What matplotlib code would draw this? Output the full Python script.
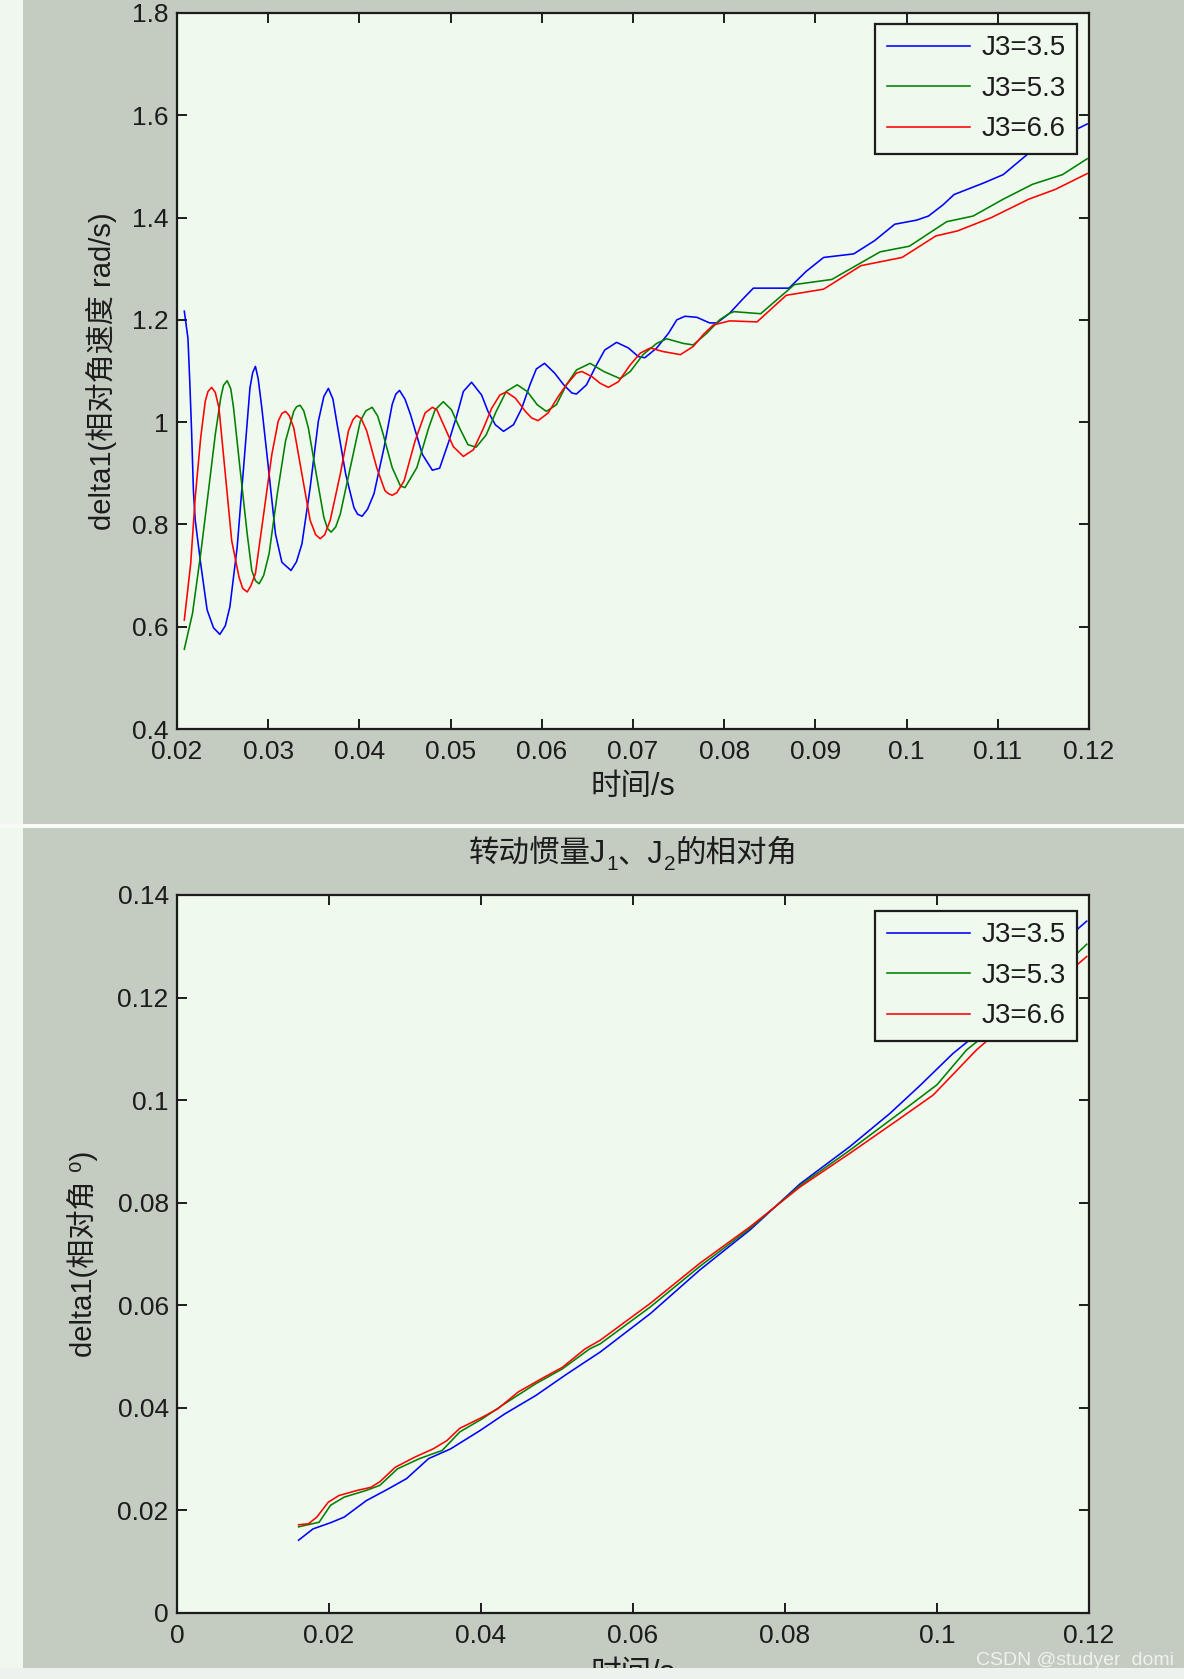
import matplotlib
matplotlib.use('Agg')
import matplotlib.pyplot as plt
from matplotlib.patches import Rectangle
from matplotlib.ticker import FixedLocator, FixedFormatter

plt.rcParams['font.family'] = ['Liberation Sans', 'Noto Sans CJK SC', 'DejaVu Sans']
plt.rcParams['axes.unicode_minus'] = False

# ---- top panel: relative angular speed ----
t35_top = [0.0208, 0.0212, 0.0214, 0.0216, 0.0218, 0.0220, 0.0226, 0.0233, 0.0240, 0.0247,
           0.0253, 0.0258, 0.0266, 0.0273, 0.0280, 0.0283, 0.0286, 0.0289, 0.0293, 0.0301,
           0.0308, 0.0315, 0.0325, 0.0331, 0.0337, 0.0346, 0.0355, 0.0361, 0.0366, 0.0371,
           0.0375, 0.0385, 0.0394, 0.0398, 0.0403, 0.0409, 0.0416, 0.0427, 0.0436, 0.0440,
           0.0444, 0.0450, 0.0456, 0.0469, 0.0480, 0.0488, 0.0498, 0.0507, 0.0514, 0.0523,
           0.0534, 0.0541, 0.0549, 0.0558, 0.0569, 0.0578, 0.0587, 0.0594, 0.0603, 0.0614,
           0.0624, 0.0633, 0.0638, 0.0649, 0.0660, 0.0669, 0.0682, 0.0695, 0.0706, 0.0713,
           0.0726, 0.0739, 0.0748, 0.0757, 0.0770, 0.0784, 0.0792, 0.0806, 0.0820, 0.0832,
           0.0871, 0.0890, 0.0909, 0.0942, 0.0965, 0.0987, 0.1011, 0.1024, 0.1040, 0.1052,
           0.1085, 0.1106, 0.1134, 0.1160, 0.1189, 0.1198]
v35_top = [1.217, 1.164, 1.080, 0.982, 0.866, 0.808, 0.723, 0.633, 0.598, 0.585,
           0.602, 0.639, 0.756, 0.911, 1.067, 1.097, 1.109, 1.085, 1.028, 0.898,
           0.781, 0.726, 0.710, 0.727, 0.762, 0.872, 1.002, 1.050, 1.066, 1.045,
           1.002, 0.898, 0.833, 0.820, 0.816, 0.830, 0.860, 0.950, 1.035, 1.055,
           1.062, 1.045, 1.015, 0.937, 0.906, 0.910, 0.962, 1.014, 1.060, 1.078,
           1.053, 1.021, 0.995, 0.982, 0.995, 1.027, 1.073, 1.104, 1.115, 1.096,
           1.073, 1.057, 1.055, 1.073, 1.112, 1.141, 1.156, 1.145, 1.128, 1.126,
           1.145, 1.174, 1.200, 1.207, 1.205, 1.194, 1.194, 1.213, 1.240, 1.262,
           1.262, 1.295, 1.322, 1.329, 1.355, 1.387, 1.395, 1.403, 1.425, 1.445,
           1.468, 1.484, 1.526, 1.555, 1.575, 1.583]

t53_top = [0.0208, 0.0217, 0.0226, 0.0235, 0.0242, 0.0248, 0.0251, 0.0255, 0.0259, 0.0262,
           0.0269, 0.0277, 0.0282, 0.0286, 0.0290, 0.0295, 0.0301, 0.0310, 0.0319, 0.0328,
           0.0331, 0.0335, 0.0339, 0.0344, 0.0354, 0.0361, 0.0365, 0.0369, 0.0374, 0.0379,
           0.0390, 0.0401, 0.0407, 0.0414, 0.0420, 0.0425, 0.0436, 0.0445, 0.0450, 0.0463,
           0.0476, 0.0483, 0.0492, 0.0501, 0.0510, 0.0519, 0.0528, 0.0539, 0.0550, 0.0561,
           0.0573, 0.0584, 0.0595, 0.0605, 0.0616, 0.0627, 0.0638, 0.0653, 0.0668, 0.0686,
           0.0697, 0.0711, 0.0726, 0.0737, 0.0755, 0.0766, 0.0781, 0.0795, 0.0806, 0.0811,
           0.0840, 0.0877, 0.0918, 0.0971, 0.1003, 0.1044, 0.1073, 0.1106, 0.1138, 0.1171,
           0.1198]
v53_top = [0.556, 0.626, 0.743, 0.873, 0.976, 1.048, 1.072, 1.081, 1.065, 1.028,
           0.911, 0.781, 0.710, 0.690, 0.684, 0.700, 0.743, 0.860, 0.963, 1.021,
           1.030, 1.033, 1.022, 0.989, 0.885, 0.814, 0.792, 0.785, 0.795, 0.820,
           0.911, 1.002, 1.022, 1.029, 1.012, 0.983, 0.911, 0.875, 0.872, 0.911,
           0.989, 1.024, 1.040, 1.024, 0.988, 0.956, 0.951, 0.975, 1.021, 1.060,
           1.073, 1.060, 1.034, 1.021, 1.034, 1.073, 1.102, 1.115, 1.099, 1.085,
           1.099, 1.132, 1.154, 1.163, 1.154, 1.151, 1.174, 1.200, 1.213, 1.216,
           1.212, 1.269, 1.279, 1.333, 1.344, 1.392, 1.403, 1.436, 1.465, 1.484,
           1.515]

t66_top = [0.0208, 0.0215, 0.0220, 0.0226, 0.0231, 0.0234, 0.0238, 0.0242, 0.0246, 0.0253,
           0.0260, 0.0268, 0.0272, 0.0277, 0.0281, 0.0286, 0.0295, 0.0304, 0.0311, 0.0315,
           0.0319, 0.0323, 0.0328, 0.0337, 0.0346, 0.0352, 0.0357, 0.0362, 0.0368, 0.0379,
           0.0388, 0.0393, 0.0397, 0.0402, 0.0408, 0.0419, 0.0428, 0.0432, 0.0436, 0.0441,
           0.0449, 0.0461, 0.0472, 0.0480, 0.0485, 0.0494, 0.0503, 0.0514, 0.0525, 0.0536,
           0.0545, 0.0554, 0.0561, 0.0571, 0.0582, 0.0589, 0.0596, 0.0607, 0.0618, 0.0627,
           0.0638, 0.0644, 0.0655, 0.0664, 0.0673, 0.0684, 0.0697, 0.0708, 0.0719, 0.0733,
           0.0752, 0.0766, 0.0777, 0.0788, 0.0806, 0.0836, 0.0868, 0.0909, 0.0950, 0.0995,
           0.1032, 0.1056, 0.1093, 0.1134, 0.1163, 0.1198]
v66_top = [0.613, 0.723, 0.853, 0.970, 1.041, 1.060, 1.068, 1.058, 1.028, 0.898,
           0.768, 0.697, 0.675, 0.668, 0.680, 0.704, 0.820, 0.937, 1.002, 1.017,
           1.021, 1.013, 0.989, 0.898, 0.808, 0.780, 0.772, 0.780, 0.808, 0.898,
           0.983, 1.005, 1.013, 1.007, 0.983, 0.911, 0.866, 0.860, 0.857, 0.862,
           0.885, 0.963, 1.018, 1.029, 1.024, 0.988, 0.952, 0.933, 0.946, 0.988,
           1.027, 1.053, 1.059, 1.047, 1.021, 1.008, 1.003, 1.018, 1.050, 1.073,
           1.096, 1.099, 1.089, 1.076, 1.068, 1.079, 1.112, 1.135, 1.145, 1.138,
           1.132, 1.148, 1.171, 1.190, 1.198, 1.196, 1.248, 1.260, 1.306, 1.322,
           1.364, 1.374, 1.400, 1.436, 1.455, 1.486]

# ---- bottom panel: relative angle ----
t35_bot = [0.0160, 0.0179, 0.0202, 0.0220, 0.0249, 0.0278, 0.0302, 0.0331, 0.0360, 0.0399,
           0.0431, 0.0472, 0.0513, 0.0557, 0.0623, 0.0688, 0.0754, 0.0820, 0.0885, 0.0938,
           0.0978, 0.1021, 0.1046, 0.1100, 0.1150, 0.1186, 0.1197]
a35_bot = [0.0142, 0.0164, 0.0176, 0.0187, 0.0219, 0.0242, 0.0262, 0.0301, 0.0320, 0.0356,
           0.0388, 0.0424, 0.0466, 0.0509, 0.0584, 0.0669, 0.0747, 0.0837, 0.0909, 0.0974,
           0.1029, 0.1091, 0.1121, 0.1190, 0.1265, 0.1335, 0.1349]

t53_bot = [0.0160, 0.0187, 0.0202, 0.0220, 0.0249, 0.0267, 0.0290, 0.0319, 0.0349, 0.0372,
           0.0402, 0.0431, 0.0472, 0.0507, 0.0543, 0.0557, 0.0623, 0.0688, 0.0754, 0.0820,
           0.0885, 0.0951, 0.1000, 0.1039, 0.1061, 0.1120, 0.1180, 0.1197]
a53_bot = [0.0168, 0.0177, 0.0210, 0.0226, 0.0239, 0.0249, 0.0281, 0.0301, 0.0317, 0.0353,
           0.0379, 0.0408, 0.0447, 0.0476, 0.0515, 0.0525, 0.0597, 0.0676, 0.0750, 0.0834,
           0.0902, 0.0975, 0.1030, 0.1098, 0.1124, 0.1200, 0.1280, 0.1304]

t66_bot = [0.0160, 0.0173, 0.0184, 0.0199, 0.0213, 0.0237, 0.0255, 0.0267, 0.0287, 0.0313,
           0.0337, 0.0355, 0.0372, 0.0402, 0.0422, 0.0449, 0.0481, 0.0507, 0.0537, 0.0557,
           0.0623, 0.0688, 0.0754, 0.0820, 0.0885, 0.0951, 0.0995, 0.1052, 0.1070, 0.1130,
           0.1197]
a66_bot = [0.0172, 0.0174, 0.0187, 0.0216, 0.0229, 0.0239, 0.0245, 0.0256, 0.0284, 0.0304,
           0.0320, 0.0336, 0.0360, 0.0382, 0.0398, 0.0431, 0.0458, 0.0479, 0.0515, 0.0532,
           0.0604, 0.0682, 0.0753, 0.0831, 0.0896, 0.0964, 0.1010, 0.1098, 0.1121, 0.1195,
           0.1280]

labels = ['J3=3.5', 'J3=5.3', 'J3=6.6']
colors = ['#0000ff', '#008000', '#ff0000']

top_xticks = [0.02, 0.03, 0.04, 0.05, 0.06, 0.07, 0.08, 0.09, 0.1, 0.11, 0.12]
top_xlabels = ['0.02', '0.03', '0.04', '0.05', '0.06', '0.07', '0.08', '0.09', '0.1', '0.11', '0.12']
top_yticks = [0.4, 0.6, 0.8, 1.0, 1.2, 1.4, 1.6, 1.8]
top_ylabels = ['0.4', '0.6', '0.8', '1', '1.2', '1.4', '1.6', '1.8']
bot_xticks = [0, 0.02, 0.04, 0.06, 0.08, 0.1, 0.12]
bot_xlabels = ['0', '0.02', '0.04', '0.06', '0.08', '0.1', '0.12']
bot_yticks = [0, 0.02, 0.04, 0.06, 0.08, 0.1, 0.12, 0.14]
bot_ylabels = ['0', '0.02', '0.04', '0.06', '0.08', '0.1', '0.12', '0.14']

# title pieces: (text, size, is_subscript)
title_parts = [('转动惯量J', 22, False), ('1', 15, True), ('、J', 22, False),
               ('2', 15, True), ('的相对角', 22, False)]

W, H = 1184, 1679
page_bg = '#eff7ee'
panel_bg = '#c4cbc1'
axes_bg = '#f0f9ee'
ink = '#1c1c1c'

fig = plt.figure(figsize=(W / 100, H / 100), dpi=100)
fig.patch.set_facecolor(page_bg)

# grey window areas behind the two plots
fig.add_artist(Rectangle((23 / W, 1 - 824 / H), 1, 824 / H, transform=fig.transFigure,
                         facecolor=panel_bg, edgecolor='none', zorder=-5))
fig.add_artist(Rectangle((23 / W, 1 - 1668 / H), 1, (1668 - 828) / H, transform=fig.transFigure,
                         facecolor=panel_bg, edgecolor='none', zorder=-5))
fig.add_artist(Rectangle((0, 1 - 828 / H), 1, 4 / H, transform=fig.transFigure,
                         facecolor='#f7faf6', edgecolor='none', zorder=-4))


def style_axes(ax, xt, xl, yt, yl):
    ax.set_facecolor(axes_bg)
    for s in ax.spines.values():
        s.set_linewidth(1.6)
        s.set_color(ink)
    ax.xaxis.set_major_locator(FixedLocator(xt))
    ax.xaxis.set_major_formatter(FixedFormatter(xl))
    ax.yaxis.set_major_locator(FixedLocator(yt))
    ax.yaxis.set_major_formatter(FixedFormatter(yl))
    ax.tick_params(direction='in', length=7, width=1.4, colors=ink, labelsize=19,
                   top=True, right=True)
    ax.tick_params(axis='x', pad=8)
    ax.tick_params(axis='y', pad=6)


def add_legend(ax, anchor):
    leg = ax.legend(loc='upper right', bbox_to_anchor=anchor, borderaxespad=0,
                    fontsize=20, handlelength=3.0, handletextpad=0.4,
                    borderpad=0.42, labelspacing=0.52, fancybox=False,
                    framealpha=1, facecolor=axes_bg, edgecolor=ink)
    leg.get_frame().set_linewidth(1.6)
    for txt in leg.get_texts():
        txt.set_color(ink)


# top plot
ax1 = fig.add_axes([177 / W, 1 - 729 / H, 912 / W, 716 / H])
for t, v, c, lab in zip([t35_top, t53_top, t66_top], [v35_top, v53_top, v66_top], colors, labels):
    ax1.plot(t, v, color=c, lw=1.15, label=lab)
ax1.set_xlim(0.02, 0.12)
ax1.set_ylim(0.4, 1.8)
style_axes(ax1, top_xticks, top_xlabels, top_yticks, top_ylabels)
ax1.set_xlabel('时间/s', fontsize=22, color=ink, labelpad=6)
ax1.set_ylabel('delta1(相对角速度 rad/s)', fontsize=21, color=ink, labelpad=11)
add_legend(ax1, (0.987, 0.985))

# bottom plot
ax2 = fig.add_axes([177 / W, 1 - 1613 / H, 912 / W, 718 / H])
for t, a, c, lab in zip([t35_bot, t53_bot, t66_bot], [a35_bot, a53_bot, a66_bot], colors, labels):
    ax2.plot(t, a, color=c, lw=1.15, label=lab)
ax2.set_xlim(0, 0.12)
ax2.set_ylim(0, 0.14)
style_axes(ax2, bot_xticks, bot_xlabels, bot_yticks, bot_ylabels)
ax2.set_xlabel('时间/s', fontsize=22, color=ink, labelpad=8)
ax2.set_ylabel('delta1(相对角 \u2070)', fontsize=21, color=ink, labelpad=14)
add_legend(ax2, (0.987, 0.978))

# title of the lower plot, built piece by piece so the subscripts drop below the line
renderer = fig.canvas.get_renderer()
pieces = []
widths = []
for txt, size, sub in title_parts:
    t = fig.text(0, 0, txt, fontsize=size, color=ink, va='baseline', ha='left')
    pieces.append((t, sub))
    widths.append(t.get_window_extent(renderer).width)
x_px = 633 - sum(widths) / 2
base_px = H - 862
for (t, sub), w in zip(pieces, widths):
    t.set_position((x_px / W, (base_px - (8 if sub else 0)) / H))
    x_px += w

# light strip at the very bottom (cuts the lower x label like the screenshot)
fig.add_artist(Rectangle((0, 0), 1, 11 / H, transform=fig.transFigure,
                         facecolor='#eef2ee', edgecolor='none', zorder=20))

fig.text(1174 / W, 1 - 1660 / H, 'CSDN @studyer_domi', ha='right', va='center',
         fontsize=14, color='#f4f6f2', alpha=0.9, zorder=21)

fig.savefig('out.png', dpi=100, facecolor=fig.get_facecolor())
